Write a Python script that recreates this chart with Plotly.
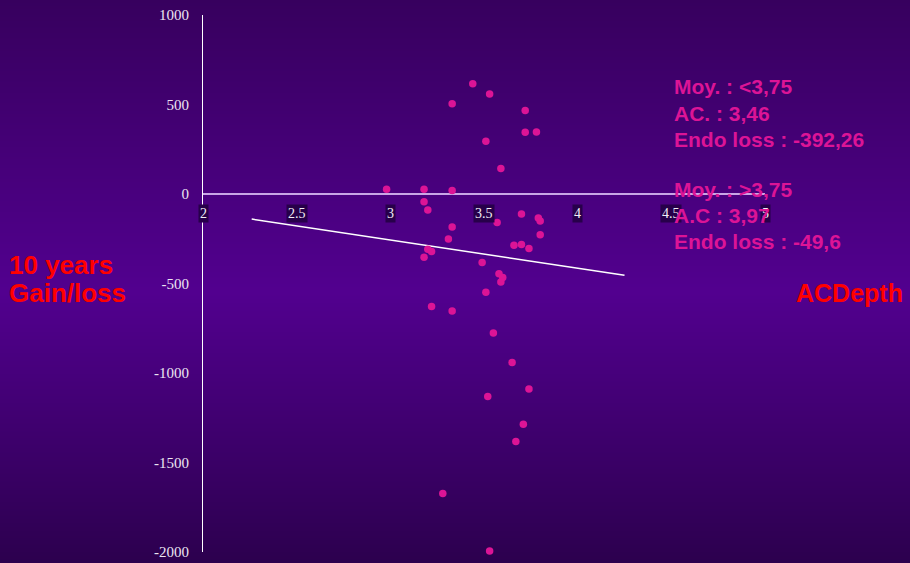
import base64
import struct
import zlib

import plotly.graph_objects as go

# ---------------- data ----------------
ac_depth = [3.44, 3.53, 3.33, 3.72, 3.72, 3.78, 3.51, 3.59, 2.98, 3.18,
            3.33, 3.18, 3.20, 3.70, 3.57, 3.79, 3.80, 3.33, 3.31, 3.80,
            3.66, 3.70, 3.74, 3.20, 3.22, 3.18, 3.49, 3.58, 3.60, 3.59,
            3.51, 3.22, 3.33, 3.55, 3.65, 3.74, 3.52, 3.71, 3.67, 3.28,
            3.53]
gain_loss = [616, 558, 504, 466, 345, 347, 295, 142, 26, 26,
             20, -43, -90, -112, -159, -134, -151, -185, -252, -228,
             -286, -282, -305, -308, -321, -353, -383, -445, -467, -491,
             -549, -628, -654, -777, -941, -1089, -1131, -1286, -1382, -1673,
             -1994]

trend_x = [2.26, 4.25]
trend_y = [-140, -454]

x_ticks = [2, 2.5, 3, 3.5, 4, 4.5, 5]
x_tick_labels = ["2", "2.5", "3", "3.5", "4", "4.5", "5"]
y_ticks = [-2000, -1500, -1000, -500, 0, 500, 1000]
y_tick_labels = ["-2000", "-1500", "-1000", "-500", "0", "500", "1000"]

group1_lines = ["Moy. : <3,75", "AC. : 3,46", "Endo loss : -392,26"]
group2_lines = ["Moy. : >3,75", "A.C : 3,97", "Endo loss : -49,6"]
y_title_lines = ["10 years", "Gain/loss"]
x_title = "ACDepth"

# ---------------- layout constants ----------------
W, H = 910, 563
ML, MR, MT, MB = 203, 145, 15, 11
PW, PH = W - ML - MR, H - MT - MB


def px_x(p):
    return (p - ML) / PW


def px_y(p):
    return 1 - (p - MT) / PH


# background gradient image (styling only)
def gradient_png(h, stops):
    rows = []
    for i in range(h):
        t = i / (h - 1)
        for (t0, c0), (t1, c1) in zip(stops[:-1], stops[1:]):
            if t0 <= t <= t1:
                f = (t - t0) / (t1 - t0) if t1 > t0 else 0
                c = [round(a + (b - a) * f) for a, b in zip(c0, c1)]
                break
        rows.append(b"\x00" + bytes(c * 4))
    raw = b"".join(rows)

    def chunk(tag, data):
        return (struct.pack(">I", len(data)) + tag + data
                + struct.pack(">I", zlib.crc32(tag + data) & 0xffffffff))

    png = (b"\x89PNG\r\n\x1a\n"
           + chunk(b"IHDR", struct.pack(">IIBBBBB", 4, h, 8, 2, 0, 0, 0))
           + chunk(b"IDAT", zlib.compress(raw))
           + chunk(b"IEND", b""))
    return "data:image/png;base64," + base64.b64encode(png).decode()


bg_src = gradient_png(H, [(0.0, (0x37, 0x00, 0x5e)),
                          (0.52, (0x52, 0x00, 0x8f)),
                          (1.0, (0x2c, 0x00, 0x4e))])

fig = go.Figure()

fig.add_trace(go.Scatter(
    x=trend_x, y=trend_y, mode="lines",
    line=dict(color="white", width=1.5),
    hoverinfo="skip", showlegend=False))

fig.add_trace(go.Scatter(
    x=ac_depth, y=gain_loss, mode="markers",
    marker=dict(color="#dc1496", size=7.5),
    showlegend=False, cliponaxis=False))

annotations = []
for v, lab in zip(x_ticks, x_tick_labels):
    annotations.append(dict(
        x=v, y=0, xref="x", yref="y", text=lab, showarrow=False,
        yshift=-19, xanchor="center", yanchor="middle",
        bgcolor="#27004a", borderpad=1,
        font=dict(family="Liberation Serif", size=14, color="#f2eef6")))

pink = "#dc1496"
for i, t in enumerate(group1_lines):
    annotations.append(dict(
        x=px_x(672), y=px_y([87, 113, 139][i]), xref="paper", yref="paper",
        text="<b>%s</b>" % t, showarrow=False, xanchor="left", yanchor="middle",
        font=dict(family="Liberation Sans", size=21, color=pink)))
for i, t in enumerate(group2_lines):
    annotations.append(dict(
        x=px_x(672), y=px_y([190, 215, 241][i]), xref="paper", yref="paper",
        text="<b>%s</b>" % t, showarrow=False, xanchor="left", yanchor="middle",
        font=dict(family="Liberation Sans", size=21, color=pink)))

for i, t in enumerate(y_title_lines):
    annotations.append(dict(
        x=px_x(7), y=px_y([265, 293][i]), xref="paper", yref="paper",
        text="<b>%s</b>" % t, showarrow=False, xanchor="left", yanchor="middle",
        font=dict(family="Liberation Sans", size=26, color="#ff0000")))

annotations.append(dict(
    x=px_x(794), y=px_y(293), xref="paper", yref="paper",
    text="<b>%s</b>" % x_title, showarrow=False, xanchor="left", yanchor="middle",
    font=dict(family="Liberation Sans", size=25, color="#ff0000")))

fig.update_layout(
    width=W, height=H, autosize=False,
    margin=dict(l=ML, r=MR, t=MT, b=MB, pad=0, autoexpand=False),
    paper_bgcolor="#4a0080",
    plot_bgcolor="rgba(0,0,0,0)",
    showlegend=False,
    images=[dict(source=bg_src, xref="paper", yref="paper",
                 x=-ML / PW, y=1 + MT / PH, sizex=W / PW, sizey=H / PH,
                 xanchor="left", yanchor="top", sizing="stretch",
                 layer="below")],
    annotations=annotations,
    xaxis=dict(range=[2, 5], showgrid=False, zeroline=False, automargin=False,
               showticklabels=False, showline=False, ticks=""),
    yaxis=dict(range=[-2000, 1000], showgrid=False, automargin=False,
               zeroline=True, zerolinecolor="#c9a6e6", zerolinewidth=2,
               showline=True, linecolor="white", linewidth=1.2,
               tickvals=y_ticks, ticktext=y_tick_labels, ticks="",
               ticklabelstandoff=10,
               tickfont=dict(family="Liberation Serif", size=15, color="#ece6f2")),
)

fig.write_html(
    "out.html",
    config={"displayModeBar": False},
    post_script="document.body.style.margin='0px';"
                "document.body.style.overflow='hidden';",
)
